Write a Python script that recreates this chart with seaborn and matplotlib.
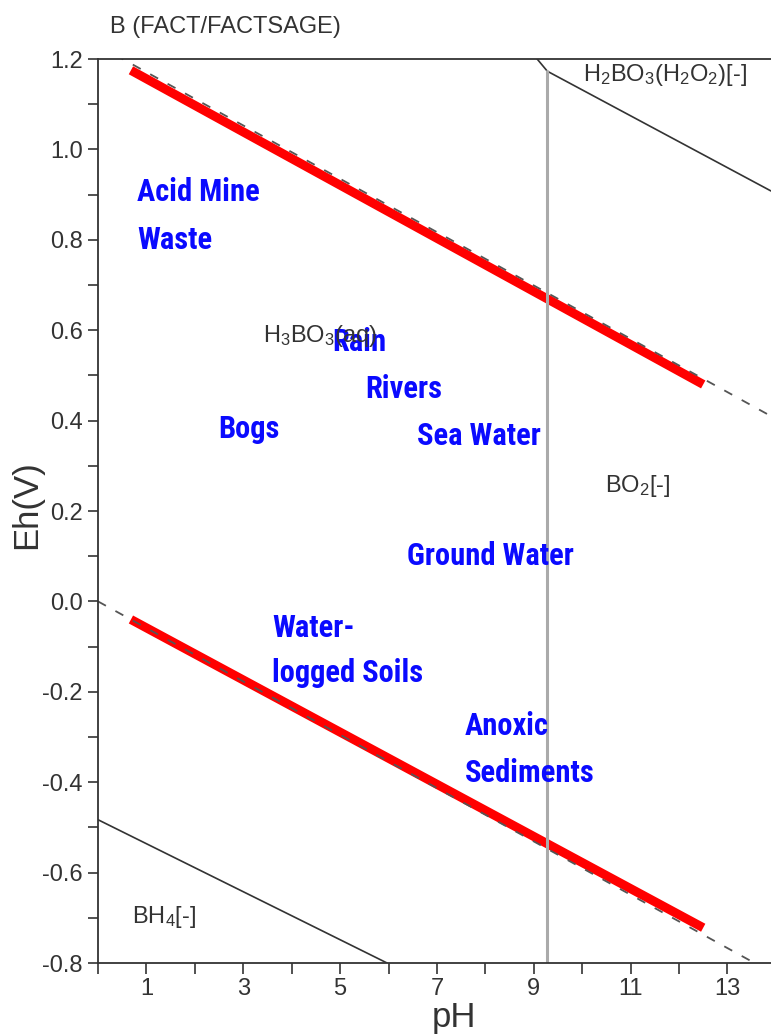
import os
import numpy as np
import pandas as pd
import matplotlib
matplotlib.use("Agg")
import matplotlib.pyplot as plt
from matplotlib import font_manager as fm
import seaborn as sns

# water stability limits: thick red bands and the dashed reference lines
band_ph = [0.68, 12.5]
o2_band_eh = [1.175, 0.480]
h2_band_eh = [-0.040, -0.722]

dash_ph = [0.0, 14.0]
o2_dash_eh = [1.23, 0.404]
h2_dash_eh = [0.0, -0.826]

# species boundaries
bh4_ph = [0.0, 5.97]
bh4_eh = [-0.483, -0.80]
peroxo_ph = [9.07, 9.28, 13.9]
peroxo_eh = [1.20, 1.173, 0.908]
borate_ph = [9.28, 9.28]
borate_eh = [-0.80, 1.173]

# species labels (math text), pH, Eh of baseline
species = ["H$_2$BO$_3$(H$_2$O$_2$)[-]", "H$_3$BO$_3$(aq)", "BO$_2$[-]", "BH$_4$[-]"]
species_ph = [10.02, 3.41, 10.47, 0.70]
species_eh = [1.151, 0.573, 0.243, -0.711]

# natural environments (one entry per text line)
env = ["Acid Mine", "Waste", "Rain", "Rivers", "Bogs", "Sea Water", "Ground Water",
       "Water-", "logged Soils", "Anoxic", "Sediments"]
env_ph = [0.81, 0.81, 4.83, 5.52, 2.48, 6.59, 6.38, 3.60, 3.60, 7.58, 7.58]
env_eh = [0.886, 0.779, 0.553, 0.451, 0.361, 0.347, 0.081, -0.078, -0.178, -0.295, -0.399]

xticks = list(range(0, 14))
xlabels = [str(t) if t % 2 else "" for t in xticks]
yticks = [round(v, 1) + 0.0 for v in np.arange(-0.8, 1.21, 0.1)]
ylabels = [(f"{abs(v):.1f}" if abs(v) < 1e-9 else f"{v:.1f}") if i % 2 == 0 else ""
           for i, v in enumerate(yticks)]


def narrow_bold():
    # look for a narrow / condensed bold face among the installed fonts
    rank = {"Liberation Sans Narrow": 0, "Roboto Condensed": 1, "Open Sans Condensed": 2}
    found = []
    for f in fm.fontManager.ttflist:
        base = os.path.basename(f.fname).lower()
        narrow = ("narrow" in base or "condensed" in base or "cond" in base
                  or "Narrow" in f.name or "Condensed" in f.name
                  or f.stretch in ("condensed", "semi-condensed", "extra-condensed"))
        w = f.weight if isinstance(f.weight, int) else fm.weight_dict.get(f.weight, 400)
        if narrow and w >= 600 and f.style == "normal":
            found.append((rank.get(f.name, 5), f.fname))
    if not found:
        return None
    found.sort()
    return found[0][1]


sns.set_style("ticks")
plt.rcParams["font.family"] = ["Liberation Sans", "DejaVu Sans"]
plt.rcParams["mathtext.fontset"] = "custom"
plt.rcParams["mathtext.rm"] = "Liberation Sans"
plt.rcParams["mathtext.it"] = "Liberation Sans:italic"
plt.rcParams["mathtext.bf"] = "Liberation Sans:bold"

narrow_file = narrow_bold()
if narrow_file:
    env_font = fm.FontProperties(fname=narrow_file, size=22)
else:
    env_font = fm.FontProperties(family="DejaVu Sans", weight="bold", size=16)

dark = "#333333"
fig = plt.figure(figsize=(7.71, 10.34), dpi=100)
ax = fig.add_axes([98 / 771, 1 - 963 / 1034, 1 - 98 / 771, (963 - 59) / 1034])

# red bands first, dashed lines on top
sns.lineplot(x=band_ph, y=o2_band_eh, ax=ax, color="red", linewidth=6.5,
             estimator=None, sort=False, solid_capstyle="butt")
sns.lineplot(x=band_ph, y=h2_band_eh, ax=ax, color="red", linewidth=6.5,
             estimator=None, sort=False, solid_capstyle="butt")
sns.lineplot(x=dash_ph, y=o2_dash_eh, ax=ax, color="#555555", linewidth=1.3,
             linestyle=(0, (5, 6)), estimator=None, sort=False)
sns.lineplot(x=dash_ph, y=h2_dash_eh, ax=ax, color="#555555", linewidth=1.3,
             linestyle=(0, (5, 6)), estimator=None, sort=False)

sns.lineplot(x=bh4_ph, y=bh4_eh, ax=ax, color="#333333", linewidth=1.2,
             estimator=None, sort=False)
sns.lineplot(x=peroxo_ph, y=peroxo_eh, ax=ax, color="#333333", linewidth=1.2,
             estimator=None, sort=False)
sns.lineplot(x=borate_ph, y=borate_eh, ax=ax, color="#aaaaaa", linewidth=2.2,
             estimator=None, sort=False)

# environment labels
for name, x, y in zip(env, env_ph, env_eh):
    ax.text(x, y, name, ha="left", va="baseline", color="#0a0aff",
            fontproperties=env_font)

# species labels (drawn after, so H3BO3 sits over "Rain")
for name, x, y in zip(species, species_ph, species_eh):
    ax.text(x, y, name, ha="left", va="baseline", color=dark, fontsize=17)

ax.set_xlim(0, 13.9)
ax.set_ylim(-0.8, 1.2)
ax.set_xticks(xticks)
ax.set_xticklabels(xlabels)
ax.set_yticks(yticks)
ax.set_yticklabels(ylabels)
ax.tick_params(axis="y", direction="out", length=7, width=1.2, colors=dark,
               labelsize=17, pad=4)
ax.tick_params(axis="x", direction="out", length=8, width=1.2, colors=dark,
               labelsize=17, pad=3)
for side in ["left", "bottom", "top"]:
    ax.spines[side].set_color(dark)
    ax.spines[side].set_linewidth(1.3)
ax.spines["right"].set_visible(False)

fig.text(110 / 771, 1 - 33 / 1034, "B (FACT/FACTSAGE)", ha="left", va="baseline",
         fontsize=17, color=dark)
fig.text(27 / 771, 1 - 505 / 1034, "Eh(V)", rotation=90, ha="center", va="center",
         fontsize=25, color=dark)
fig.text(454 / 771, 1 - 1027 / 1034, "pH", ha="center", va="baseline",
         fontsize=25, color=dark)

fig.savefig("out.png", dpi=100)
